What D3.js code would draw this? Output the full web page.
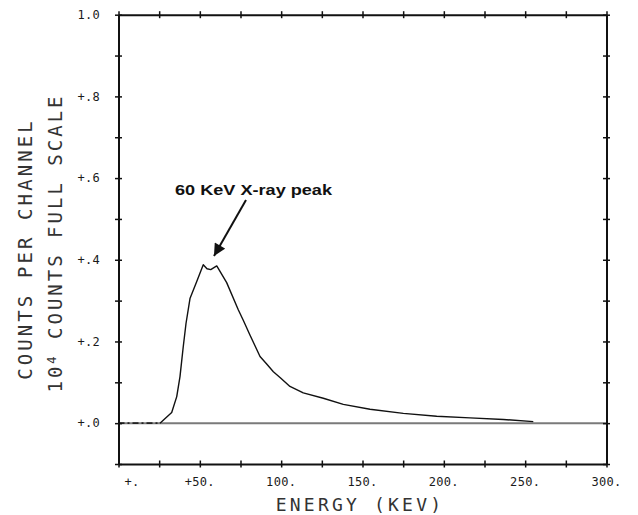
<!DOCTYPE html>
<head>
  <meta charset="utf-8">
  <title>Energy spectrum</title>
  <style>
    body { margin: 0; background: #fff; }
    .tick-label { font-family: "DejaVu Sans Mono", monospace; font-size: 12px; fill: #1a1a1a; }
    .title { font-family: "DejaVu Sans Mono", monospace; fill: #333; }
  </style>
</head>
<body>
  <svg width="638" height="515"></svg>

<script src="https://d3js.org/d3.v7.min.js"></script>
<script>

// spectrum
var energy = [0, 25.5, 32.7, 35.8, 37.8, 39.8, 41.5, 44.0, 48.1, 52.1, 54.4, 56.7, 60.4, 66.5, 73.7, 76.7,
              80.8, 87.0, 91.1, 95.2, 99.3, 105.4, 113.6, 125.9, 138.2, 154.6, 175.1, 195.6, 216.1, 236.6, 255.0];
var counts = [0, 0, 0.026, 0.065, 0.114, 0.187, 0.244, 0.306, 0.347, 0.388, 0.378, 0.376, 0.385, 0.344, 0.277, 0.252,
              0.216, 0.163, 0.145, 0.126, 0.112, 0.090, 0.074, 0.061, 0.046, 0.034, 0.024, 0.017, 0.013, 0.009, 0.0037];

var xTicks = [0, 25, 50, 75, 100, 125, 150, 175, 200, 225, 250, 275, 300];
var xLabelVals = [0, 50, 100, 150, 200, 250, 300];
var xLabels = ["+.", "+50.", "100.", "150.", "200.", "250.", "300."];
var yTicks = [-0.1, 0, 0.1, 0.2, 0.3, 0.4, 0.5, 0.6, 0.7, 0.8, 0.9, 1.0];
var yLabelVals = [0, 0.2, 0.4, 0.6, 0.8, 1.0];
var yLabels = ["+.0", "+.2", "+.4", "+.6", "+.8", "1.0"];

var svg = d3.select("svg");

// frame edges (can't call it "top", that's window.top)
var plotL = 118.5, plotR = 606.5, plotT = 14.7, plotB = 464;

var x = d3.scaleLinear().domain([0, 300]).range([plotL, plotR]);
var y = d3.scaleLinear().domain([-0.1, 1.0]).range([plotB, plotT]);

// zero baseline
svg.append("line")
    .attr("x1", x(0)).attr("x2", x(300))
    .attr("y1", y(0)).attr("y2", y(0))
    .attr("stroke", "#7a7a7a")
    .attr("stroke-width", 2);

// spectrum
var pts = energy.map(function(e, i) { return [e, counts[i]]; });
var line = d3.line()
    .x(function(d) { return x(d[0]); })
    .y(function(d) { return y(d[1]); });

svg.append("path")
    .datum(pts.slice(1))
    .attr("d", line)
    .attr("fill", "none")
    .attr("stroke", "#111")
    .attr("stroke-width", 1.4)
    .attr("stroke-linejoin", "round");

// dash-dot trace along the baseline
svg.append("path")
    .datum(pts.slice(0, 2))
    .attr("d", line)
    .attr("fill", "none")
    .attr("stroke", "#222")
    .attr("stroke-width", 1.6)
    .attr("stroke-dasharray", "6,3,2,3");

// frame with "+" ticks, plotter style
var axes = [
  { gen: d3.axisBottom(x), at: "translate(0," + plotB + ")", vals: xTicks, horiz: true },
  { gen: d3.axisTop(x), at: "translate(0," + plotT + ")", vals: xTicks, horiz: true },
  { gen: d3.axisLeft(y), at: "translate(" + plotL + ",0)", vals: yTicks, horiz: false },
  { gen: d3.axisRight(y), at: "translate(" + plotR + ",0)", vals: yTicks, horiz: false }
];

axes.forEach(function(a) {
  var g = svg.append("g")
      .attr("transform", a.at)
      .call(a.gen.tickValues(a.vals).tickFormat("").tickSizeOuter(0));
  g.select(".domain").attr("stroke", "#111").attr("stroke-width", 2);
  g.selectAll(".tick line").each(function() {
    var t = d3.select(this);
    if (a.horiz) t.attr("y1", -3.5).attr("y2", 3.5);
    else t.attr("x1", -3.5).attr("x2", 3.5);
  }).attr("stroke", "#111").attr("stroke-width", 1.5);
});

// tick labels
svg.selectAll(".xl")
    .data(xLabelVals)
  .enter().append("text")
    .attr("class", "tick-label")
    .attr("x", function(d, i) { return i === 0 ? x(d) + 6 : x(d); })
    .attr("y", 486)
    .attr("text-anchor", function(d, i) { return i === 0 ? "start" : "middle"; })
    .attr("letter-spacing", 0.3)
    .text(function(d, i) { return xLabels[i]; });

svg.selectAll(".yl")
    .data(yLabelVals)
  .enter().append("text")
    .attr("class", "tick-label")
    .attr("x", 100)
    .attr("y", function(d) { return y(d); })
    .attr("dy", "0.36em")
    .attr("text-anchor", "end")
    .attr("letter-spacing", 0.3)
    .text(function(d, i) { return yLabels[i]; });

// axis titles
svg.append("text")
    .attr("class", "title")
    .attr("x", 360)
    .attr("y", 511)
    .attr("text-anchor", "middle")
    .attr("font-size", 18)
    .attr("letter-spacing", 3.2)
    .text("ENERGY (KEV)");

svg.append("text")
    .attr("class", "title")
    .attr("transform", "translate(32,249) rotate(-90)")
    .attr("text-anchor", "middle")
    .attr("font-size", 19)
    .attr("letter-spacing", 3.1)
    .text("COUNTS PER CHANNEL");

var t2 = svg.append("text")
    .attr("class", "title")
    .attr("transform", "translate(62,243) rotate(-90)")
    .attr("text-anchor", "middle")
    .attr("font-size", 19)
    .attr("letter-spacing", 3.0);
t2.append("tspan").text("10");
t2.append("tspan").attr("dy", -6).attr("font-size", 12).text("4");
t2.append("tspan").attr("dy", 6).text(" COUNTS FULL SCALE");

// annotation
svg.append("text")
    .attr("x", 175)
    .attr("y", 195)
    .attr("font-family", "'Liberation Sans', Arial, sans-serif")
    .attr("font-weight", "bold")
    .attr("font-size", 14.5)
    .attr("textLength", 157)
    .attr("lengthAdjust", "spacingAndGlyphs")
    .attr("fill", "#111")
    .text("60 KeV X-ray peak");

svg.append("defs").append("marker")
    .attr("id", "head")
    .attr("viewBox", "0 0 10 10")
    .attr("refX", 10).attr("refY", 5)
    .attr("markerWidth", 7).attr("markerHeight", 6)
    .attr("markerUnits", "strokeWidth")
    .attr("orient", "auto")
  .append("path")
    .attr("d", "M0,0 L10,5 L0,10 z")
    .attr("fill", "#111");

svg.append("line")
    .attr("x1", 246).attr("y1", 200)
    .attr("x2", 214).attr("y2", 256)
    .attr("stroke", "#111")
    .attr("stroke-width", 2)
    .attr("marker-end", "url(#head)");

</script>
</body>
</html>
